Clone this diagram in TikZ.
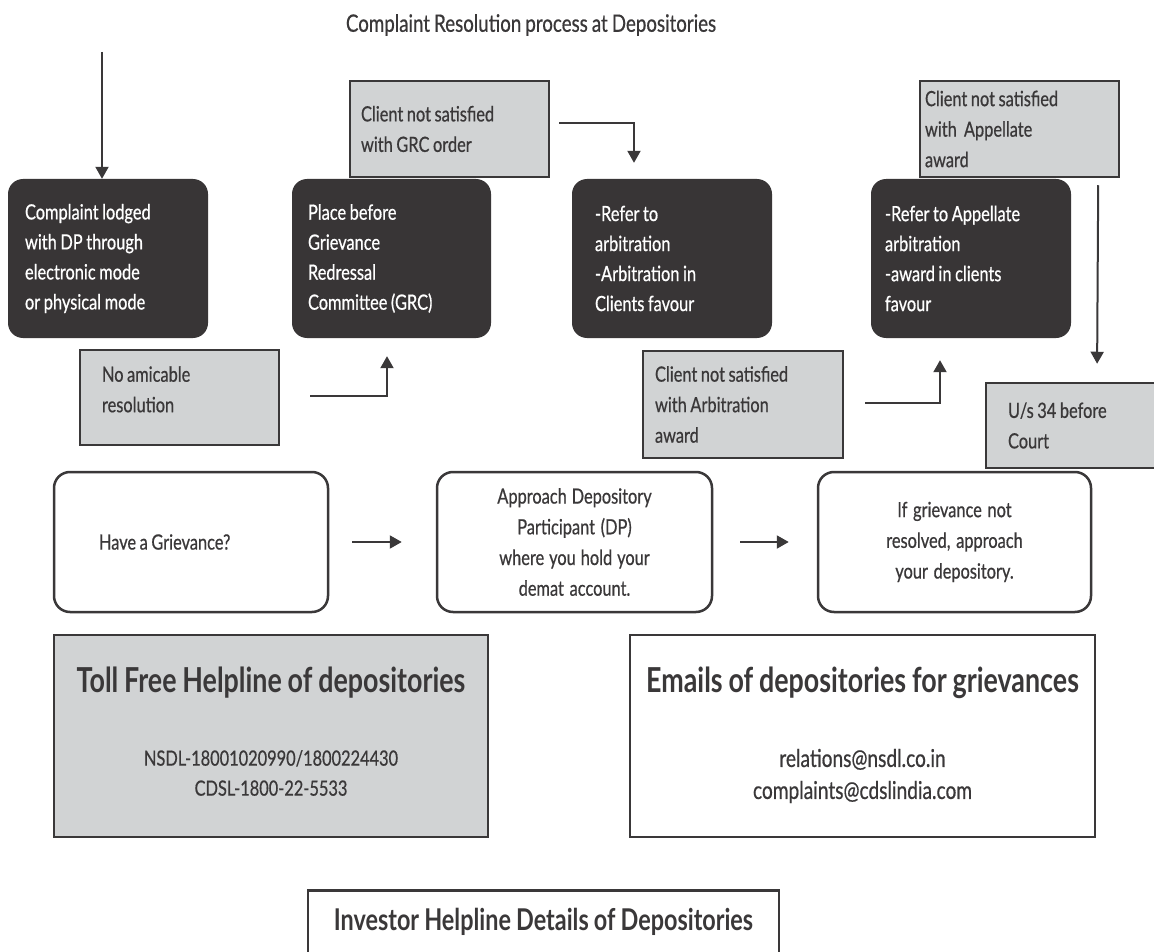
\documentclass[tikz,border=0pt]{standalone}
\usepackage{fontspec}
\setmainfont{Lato}[FakeStretch=0.78,UprightFeatures={FakeBold=0.6}]
\usepackage{tikz}
\usetikzlibrary{calc}
\usetikzlibrary{positioning}
\usetikzlibrary{arrows.meta}

\definecolor{boxdark}{HTML}{383536}
\definecolor{boxgray}{HTML}{D1D3D4}
\definecolor{ink}{HTML}{3A3839}
\newcommand\tightsp{\spaceskip=0.17em plus 0.08em minus 0.04em\relax}

\begin{document}
\begin{tikzpicture}[x=1pt,y=-1pt,
  every node/.style={execute at begin node=\tightsp},
  stage/.style={rectangle,rounded corners=15pt,fill=boxdark,text=white,inner sep=2pt,
    minimum width=200pt,minimum height=159pt,align=left,font=\fontsize{21}{30}\selectfont},
  note/.style={rectangle,draw=ink,line width=2.5pt,fill=boxgray,text=ink,inner sep=2pt,
    align=left,font=\fontsize{21}{30.5}\selectfont},
  entry/.style={rectangle,rounded corners=16pt,draw=ink,line width=2.5pt,fill=white,text=ink,
    minimum width=274pt,minimum height=140pt,align=center,font=\fontsize{21}{30.7}\selectfont},
  info/.style={rectangle,draw=ink,line width=2.5pt,text=ink},
  arr/.style={draw=ink,line width=2pt,-{Triangle[width=13pt,length=12pt]}}]
\path[fill=white,use as bounding box] (0,0) rectangle (1154,952);

\node[text=ink,font=\fontsize{24}{30}\selectfont] (title) at (531,25) {Complaint Resolution process at Depositories};

% top row
\coordinate (entry) at (102,52);
\node[stage,text width=166pt] (cpl) at (108,258.5) {Complaint lodged\\with DP through\\electronic mode\\or physical mode};
\node[stage,minimum width=199pt,text width=167pt] (grc) at (391.5,258.5) {Place before\\Grievance\\Redressal\\Committee (GRC)};
\node[stage,text width=154pt] (arb) at (672,258.5) {-Refer to\\arbitration\\-Arbitration in\\Clients favour};
\node[stage,text width=172pt] (app) at (971,258.5) {-Refer to Appellate\\arbitration\\-award in clients\\favour};

\node[note,minimum width=199pt,minimum height=96pt,text width=177pt] (grcno) at (449.5,129) {Client not satisfied\\with GRC order};
\node[note,minimum width=199pt,minimum height=96pt,text width=189pt] (appno) at (1019.5,129) {Client not satisfied\\with\ \ Appellate\\award};
\node[note,minimum width=199pt,minimum height=95pt,text width=155pt,text depth=47pt] (amic) at (179.5,397.5) {No amicable\\resolution};
\node[note,minimum width=200pt,minimum height=107pt,text width=176pt] (arbno) at (743,404.5) {Client not satisfied\\with Arbitration\\award};
\node[note,minimum width=199pt,minimum height=85pt,text width=155pt] (court) at (1085.5,425.5) {U/s 34 before\\Court};

% first steps
\node[entry,align=left,text width=184pt] (griev) at (191,542) {Have a Grievance?};
\node[entry,minimum width=275pt,text width=220pt] (dp) at (574.5,542) {Approach Depository\\Participant (DP)\\where you hold your\\demat account.};
\node[entry,minimum width=273pt,text width=220pt] (depo) at (954.5,542) {If grievance not\\resolved, approach\\your depository.};

\draw[arr] (entry) -- (entry |- cpl.north);
\draw[arr,shorten <=9pt,shorten >=16pt] ([yshift=6pt]grcno.east) -| ([xshift=-38pt]arb.north);
\draw[arr,shorten <=30pt,shorten >=18pt] ([yshift=1.5pt]amic.east) -| ([xshift=-4.5pt]grc.south);
\draw[arr,shorten <=21pt,shorten >=22pt] ([yshift=1.5pt]arbno.east) -| ([xshift=-31pt]app.south);
\draw[arr,shorten <=7pt,shorten >=18pt] ([xshift=-22pt]appno.south east) -- ([xshift=11.5pt]court.north);
\draw[arr,shorten <=23pt,shorten >=34pt] (griev.east) -- (dp.west);
\draw[arr,shorten <=27pt,shorten >=28pt] (dp.east) -- (depo.west);

% helpline boxes
\node[info,fill=boxgray,minimum width=434pt,minimum height=202pt] (toll) at (271,736) {};
\node[text=ink,font=\bfseries\fontsize{34.4}{40}\selectfont] (tollhead) at (271,683) {Toll Free Helpline of depositories};
\node[text=ink,align=center,font=\fontsize{21}{30}\selectfont] (tollnum) at (271,773) {NSDL-18001020990/1800224430\\CDSL-1800-22-5533};

\node[info,fill=white,minimum width=465pt,minimum height=202pt] (mail) at (862.5,736) {};
\node[text=ink,font=\bfseries\fontsize{34.4}{40}\selectfont] (mailhead) at (862.5,683) {Emails of depositories for grievances};
\node[text=ink,align=center,font=\fontsize{24.5}{32}\selectfont] (mailids) at (862.5,776) {relations@nsdl.co.in\\complaints@cdslindia.com};

\node[info,fill=white,minimum width=471pt,minimum height=130pt,anchor=north] (invest) at (543.5,889) {};
\node[text=ink,font=\bfseries\fontsize{30}{34}\selectfont] (investhead) at (543.5,922) {Investor Helpline Details of Depositories};
\end{tikzpicture}
\end{document}
